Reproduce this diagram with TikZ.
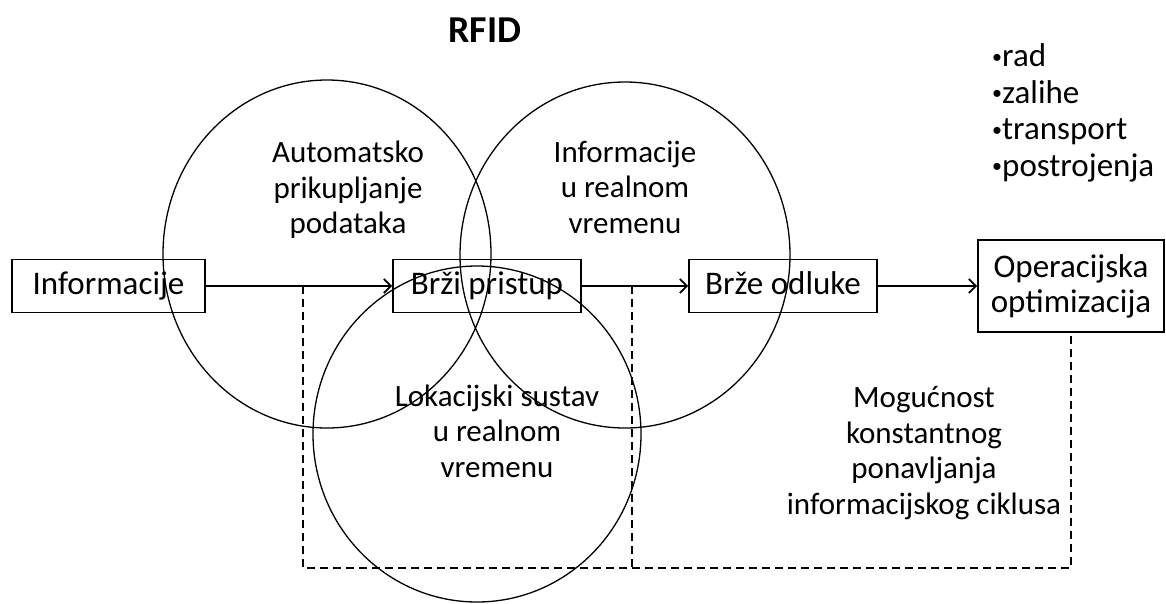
\documentclass[tikz,border=0pt]{standalone}
\usepackage{fontspec}
\setmainfont{Carlito}
\usetikzlibrary{arrows.meta,calc}
\newcommand\smallbul{{\fontsize{20}{20}\selectfont\raisebox{3.5pt}{•}}}
\begin{document}
\begin{tikzpicture}[x=1pt,y=-1pt,
  box/.style={draw,line width=1.8pt,inner sep=0pt,font=\fontsize{33}{35}\selectfont,align=center},
  onebox/.style={box,minimum height=53pt,text height=23pt,text depth=7pt},
  ring/.style={draw,line width=1.3pt},
  flow/.style={line width=1.8pt,-{Straight Barb[length=7pt,width=14pt,line width=1.8pt]}},
  cyc/.style={line width=2pt,dash pattern=on 8pt off 5pt},
  lbl/.style={inner sep=0pt,align=center,font=\fontsize{31}{35.5}\selectfont}]
\useasboundingbox (0,0) rectangle (1166,603);
% boxes
\node[onebox,minimum width=193pt] (inf) at (108.5,286) {Informacije};
\node[onebox,minimum width=188pt] (brzi) at (487,286) {Brži pristup};
\node[onebox,minimum width=188pt] (odl) at (783,286) {Brže odluke};
\node[box,minimum width=186pt,minimum height=92pt] (opt) at (1071,286) {Operacijska\\optimizacija};
% circles
\draw[ring] (327,254) ellipse [x radius=164pt, y radius=174pt];
\draw[ring] (625,255) ellipse [x radius=165pt, y radius=173pt];
\draw[ring] (477,434) ellipse [x radius=164pt, y radius=168pt];
% texts
\node[inner sep=0pt,font=\fontsize{38}{40}\selectfont\bfseries,anchor=base] (rfid) at (485,42) {RFID};
\node[inner sep=0pt,align=left,anchor=west,font=\fontsize{33}{36.5}\selectfont] (list) at (992,113) {\smallbul rad\\\smallbul zalihe\\\smallbul transport\\\smallbul postrojenja};
\node[lbl] (auto) at (348,190) {Automatsko\\prikupljanje\\podataka};
\node[lbl] (info) at (625,187) {Informacije\\u realnom\\vremenu};
\node[lbl] (lok) at (497,431) {Lokacijski sustav\\u realnom\\vremenu};
\node[lbl] (mog) at (924,453) {Mogućnost\\konstantnog\\ponavljanja\\informacijskog ciklusa};
% flow arrows
\draw[flow] (inf) -- (brzi);
\draw[flow] (brzi) -- (odl);
\draw[flow] (odl) -- (opt);
% dashed cycle
\coordinate (d1) at (303,286);
\coordinate (d2) at (632,286);
\coordinate (bot) at (0,568);
\draw[cyc] (d1) -- (d1 |- bot) -| (opt.south);
\draw[cyc] (d2) -- (d2 |- bot);
\end{tikzpicture}
\end{document}
